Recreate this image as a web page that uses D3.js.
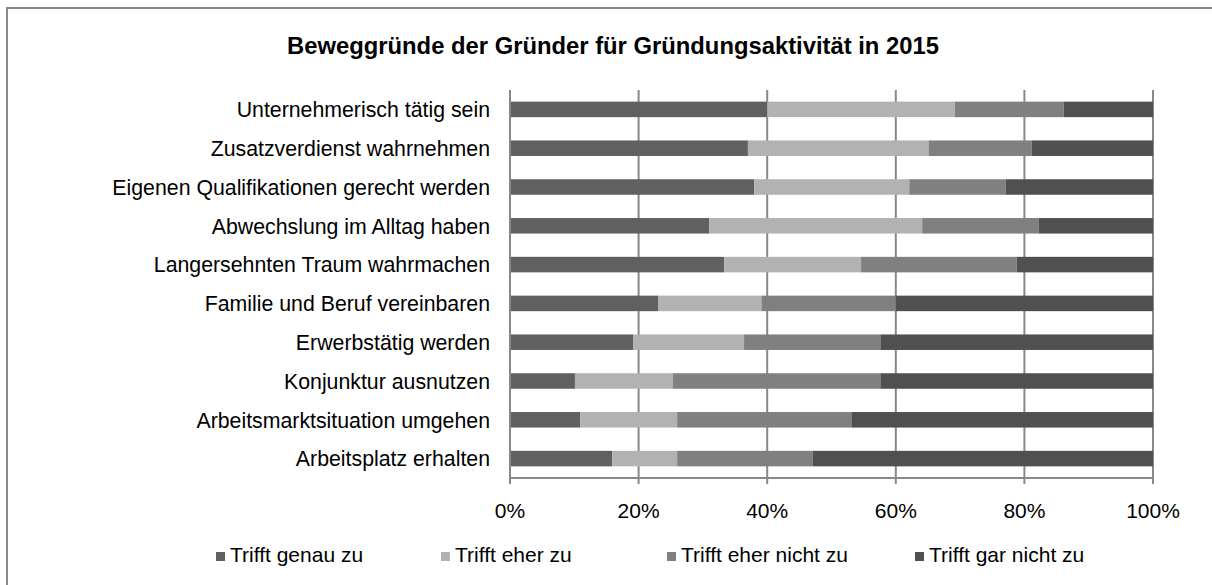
<!DOCTYPE html>
<html lang="de">
<head>
    <meta charset="UTF-8">
    <title>Beweggründe der Gründer</title>
    <script src="https://d3js.org/d3.v7.min.js"></script>
    <style>
        html, body {
            margin: 0;
            padding: 0;
            background: #fff;
            overflow: hidden;
            font-family: "Liberation Sans", Arial, sans-serif;
        }
        svg { display: block; }
        svg text { fill: #000; }
    </style>
</head>
<body>
    <svg id="chart" width="1212" height="585"></svg>

    <script>
        // Data (percent per category, summing to 100)
        const categories = [
            "Unternehmerisch tätig sein",
            "Zusatzverdienst wahrnehmen",
            "Eigenen Qualifikationen gerecht werden",
            "Abwechslung im Alltag haben",
            "Langersehnten Traum wahrmachen",
            "Familie und Beruf vereinbaren",
            "Erwerbstätig werden",
            "Konjunktur ausnutzen",
            "Arbeitsmarktsituation umgehen",
            "Arbeitsplatz erhalten"
        ];
        const seriesNames = ["Trifft genau zu", "Trifft eher zu", "Trifft eher nicht zu", "Trifft gar nicht zu"];
        const genauZu     = [40.0, 37.0, 38.0, 31.0, 33.3, 23.1, 19.2, 10.1, 10.9, 15.9];
        const eherZu      = [29.2, 28.1, 24.1, 33.1, 21.3, 16.0, 17.2, 15.2, 15.1, 10.1];
        const eherNichtZu = [16.9, 16.0, 15.0, 18.1, 24.2, 20.9, 21.2, 32.3, 27.1, 21.1];
        const garNichtZu  = [13.9, 18.9, 22.9, 17.8, 21.2, 40.0, 42.4, 42.4, 46.9, 52.9];
        const tickValues  = [0, 20, 40, 60, 80, 100];
        const colors      = ["#606060", "#b2b2b2", "#808080", "#505050"];

        const svg = d3.select("#chart");

        // outer frame (only top and left edges visible in the shot)
        svg.append("rect")
            .attr("x", 7).attr("y", 8)
            .attr("width", 1240).attr("height", 620)
            .attr("fill", "none")
            .attr("stroke", "#888")
            .attr("stroke-width", 2);

        svg.append("text")
            .attr("x", 613).attr("y", 54)
            .attr("text-anchor", "middle")
            .style("font-size", "23.8px")
            .style("font-weight", "bold")
            .text("Beweggründe der Gründer für Gründungsaktivität in 2015");

        const plotLeft = 510, plotRight = 1153, plotTop = 90, plotBottom = 478;

        const x = d3.scaleLinear().domain([0, 100]).range([plotLeft, plotRight]);
        const y = d3.scaleBand().domain(categories).range([plotTop, plotBottom]).paddingInner(0.6).paddingOuter(0.3);

        // gridlines
        svg.append("g")
            .selectAll("line")
            .data(tickValues)
            .join("line")
            .attr("x1", d => x(d)).attr("x2", d => x(d))
            .attr("y1", plotTop).attr("y2", plotBottom + 6)
            .attr("stroke", "#888")
            .attr("stroke-width", 2);

        // stacked data
        const rows = categories.map((c, i) => ({
            cat: c,
            [seriesNames[0]]: genauZu[i],
            [seriesNames[1]]: eherZu[i],
            [seriesNames[2]]: eherNichtZu[i],
            [seriesNames[3]]: garNichtZu[i]
        }));
        const stacked = d3.stack().keys(seriesNames)(rows);

        svg.append("g")
            .selectAll("g")
            .data(stacked)
            .join("g")
            .attr("fill", (d, i) => colors[i])
            .selectAll("rect")
            .data(d => d)
            .join("rect")
            .attr("x", d => x(d[0]))
            .attr("width", d => x(d[1]) - x(d[0]))
            .attr("y", d => y(d.data.cat))
            .attr("height", y.bandwidth());

        // y axis line and x axis line
        svg.append("line")
            .attr("x1", plotLeft).attr("x2", plotLeft)
            .attr("y1", plotTop).attr("y2", plotBottom + 6)
            .attr("stroke", "#888").attr("stroke-width", 2);
        svg.append("line")
            .attr("x1", plotLeft).attr("x2", plotRight)
            .attr("y1", plotBottom).attr("y2", plotBottom)
            .attr("stroke", "#888").attr("stroke-width", 2);

        // category labels
        svg.append("g")
            .selectAll("text")
            .data(categories)
            .join("text")
            .attr("x", 490)
            .attr("y", d => y(d) + y.bandwidth() / 2)
            .attr("dy", "0.37em")
            .attr("text-anchor", "end")
            .style("font-size", "21.3px")
            .text(d => d);

        // tick labels
        svg.append("g")
            .selectAll("text")
            .data(tickValues)
            .join("text")
            .attr("x", d => x(d))
            .attr("y", 510)
            .attr("dy", "0.36em")
            .attr("text-anchor", "middle")
            .style("font-size", "21px")
            .text(d => d + "%");

        // legend
        const legendX = [216, 441, 667, 915];
        const legend = svg.append("g")
            .selectAll("g")
            .data(seriesNames)
            .join("g")
            .attr("transform", (d, i) => `translate(${legendX[i]},552)`);
        legend.append("rect")
            .attr("width", 9).attr("height", 9)
            .attr("fill", (d, i) => colors[i]);
        legend.append("text")
            .attr("x", 14).attr("y", 9.5)
            .style("font-size", "21px")
            .text(d => d);
    </script>
</body>
</html>
